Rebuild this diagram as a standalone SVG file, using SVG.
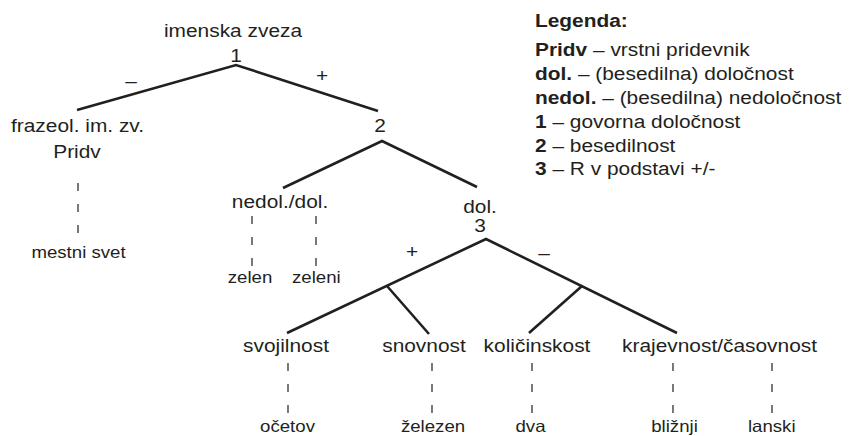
<svg xmlns="http://www.w3.org/2000/svg" width="850" height="436" viewBox="0 0 850 436">
<style>
text{font-family:"Liberation Sans",Arial,sans-serif;fill:#231f20}
.big{font-size:18.5px;text-anchor:middle}
.sm{font-size:16.5px;text-anchor:middle}
.lg{font-size:18px}
.b{font-weight:bold}
.edge{fill:none;stroke:#231f20;stroke-width:2.6;stroke-linecap:butt;stroke-linejoin:miter}
.dash{stroke:#231f20;stroke-width:1.2;stroke-dasharray:8 13}
</style>
<rect width="850" height="436" fill="#ffffff"/>
<g id="connectors">
<polyline class="edge" points="77,110 236,65 378,111"/>
<polyline class="edge" points="283,188 382,141 477,187"/>
<polyline class="edge" points="287,333 486,239 677,333"/>
<line class="edge" x1="387" y1="286" x2="429" y2="334"/>
<line class="edge" x1="582" y1="286" x2="529" y2="333"/>
<line class="dash" x1="78" y1="183" x2="78" y2="236"/>
<line class="dash" x1="252" y1="216" x2="252" y2="266"/>
<line class="dash" x1="316" y1="216" x2="316" y2="266"/>
<line class="dash" x1="288" y1="363" x2="288" y2="413"/>
<line class="dash" x1="432" y1="363" x2="432" y2="413"/>
<line class="dash" x1="532" y1="363" x2="532" y2="413"/>
<line class="dash" x1="673" y1="363" x2="673" y2="413"/>
<line class="dash" x1="772" y1="363" x2="772" y2="413"/>
</g>
<g id="edge-labels">
<text class="big" transform="translate(131,87) scale(1.13,1)">–</text>
<text class="big" transform="translate(322,81.5) scale(1.13,1)">+</text>
<text class="big" transform="translate(412,257.5) scale(1.13,1)">+</text>
<text class="big" transform="translate(544,259) scale(1.13,1)">–</text>
</g>
<g id="n-root">
<text class="big" transform="translate(233,37) scale(1.13,1)">imenska zveza</text>
<text class="big" transform="translate(236,61.5) scale(1.13,1)">1</text>
</g>
<g id="n-frazeol">
<text class="big" transform="translate(77.5,131.5) scale(1.13,1)">frazeol. im. zv.</text>
<text class="big" transform="translate(77,158) scale(1.13,1)">Pridv</text>
</g>
<g id="n-2">
<text class="big" transform="translate(380,131.5) scale(1.13,1)">2</text>
</g>
<g id="n-nedol">
<text class="big" transform="translate(280,208) scale(1.13,1)">nedol./dol.</text>
</g>
<g id="n-dol">
<text class="big" transform="translate(480,212.5) scale(1.13,1)">dol.</text>
<text class="big" transform="translate(480,231.5) scale(1.13,1)">3</text>
</g>
<g id="n-svojilnost">
<text class="big" transform="translate(286,352) scale(1.13,1)">svojilnost</text>
</g>
<g id="n-snovnost">
<text class="big" transform="translate(424,352) scale(1.13,1)">snovnost</text>
</g>
<g id="n-kolicinskost">
<text class="big" transform="translate(537,352) scale(1.13,1)">količinskost</text>
</g>
<g id="n-krajevnost">
<text class="big" transform="translate(719.5,352) scale(1.13,1)">krajevnost/časovnost</text>
</g>
<g id="n-mestni">
<text class="sm" transform="translate(78.5,257.5) scale(1.13,1)">mestni svet</text>
</g>
<g id="n-zelen">
<text class="sm" transform="translate(250,283) scale(1.13,1)">zelen</text>
</g>
<g id="n-zeleni">
<text class="sm" transform="translate(316.3,283) scale(1.13,1)">zeleni</text>
</g>
<g id="n-ocetov">
<text class="sm" transform="translate(287.5,432) scale(1.13,1)">očetov</text>
</g>
<g id="n-zelezen">
<text class="sm" transform="translate(433,432) scale(1.13,1)">železen</text>
</g>
<g id="n-dva">
<text class="sm" transform="translate(530.5,432) scale(1.13,1)">dva</text>
</g>
<g id="n-bliznji">
<text class="sm" transform="translate(674.5,432) scale(1.13,1)">bližnji</text>
</g>
<g id="n-lanski">
<text class="sm" transform="translate(771.7,432) scale(1.13,1)">lanski</text>
</g>
<g id="legend">
<text class="lg b" transform="translate(535,26.5) scale(1.16,1)">Legenda:</text>
<text class="lg" transform="translate(535,56) scale(1.16,1)"><tspan class="b">Pridv</tspan> – vrstni pridevnik</text>
<text class="lg" transform="translate(535,80) scale(1.16,1)"><tspan class="b">dol.</tspan> – (besedilna) določnost</text>
<text class="lg" transform="translate(535,104) scale(1.16,1)"><tspan class="b">nedol.</tspan> – (besedilna) nedoločnost</text>
<text class="lg" transform="translate(535,128) scale(1.16,1)"><tspan class="b">1</tspan> – govorna določnost</text>
<text class="lg" transform="translate(535,151.5) scale(1.16,1)"><tspan class="b">2</tspan> – besedilnost</text>
<text class="lg" transform="translate(535,175) scale(1.16,1)"><tspan class="b">3</tspan> – R v podstavi +/-</text>
</g>
</svg>
